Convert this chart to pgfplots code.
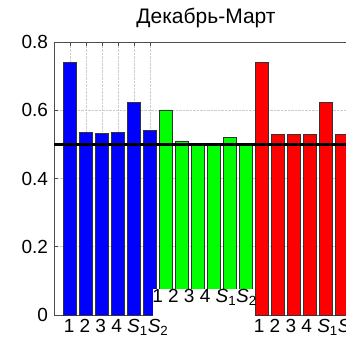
\documentclass[border=0pt]{standalone}
\usepackage{fontspec}
\setmainfont{Liberation Sans}
\usepackage{pgfplots}
\pgfplotsset{compat=1.18}
\newcommand{\lab}{\fontsize{19}{22}\selectfont}
\newcommand{\grp}{1 2 3 4 \textit{S}\textsubscript{1}\textit{S}\textsubscript{2}}
\begin{document}
\begin{tikzpicture}[x=1pt,y=1pt]
\useasboundingbox (0,0) rectangle (346,341);
\clip (0,0) rectangle (346,341);
\begin{axis}[
  at={(54pt,26pt)}, anchor=south west,
  scale only axis, width=304pt, height=273pt,
  xmin=0, xmax=19, ymin=0, ymax=0.8,
  xtick={1,2,3,4,5,6}, xticklabels={},
  ytick={0,0.2,0.4,0.6,0.8},
  yticklabels={0,0.2,0.4,0.6,0.8},
  grid=major, major grid style={gray!40, densely dotted, line width=0.6pt},
  tick align=inside, major tick length=4pt,
  axis line style={gray!60!black, line width=0.8pt},
  tick style={gray!60!black, line width=0.8pt},
  title={Декабрь-Март},
  title style={font=\fontsize{21}{24}\selectfont, at={(0.5,1)}, anchor=base, yshift=13pt},
  ticklabel style={font=\lab},
  yticklabel style={xshift=-2.5pt},
  /pgf/number format/assume math mode=true,
  clip=false,
]
\addplot[ybar, bar width=0.8, bar shift=0pt, fill=blue, draw=black!80, line width=0.7pt]
  coordinates {(1,0.739)(2,0.535)(3,0.532)(4,0.535)(5,0.622)(6,0.541)};
\addplot[ybar, bar width=0.8, bar shift=0pt, fill=green, draw=black!80, line width=0.7pt]
  coordinates {(7,0.601)(8,0.510)(9,0.497)(10,0.497)(11,0.521)(12,0.499)};
\addplot[ybar, bar width=0.8, bar shift=0pt, fill=red, draw=black!80, line width=0.7pt]
  coordinates {(13,0.741)(14,0.528)(15,0.530)(16,0.530)(17,0.622)(18,0.530)};
\fill[white] (axis cs:6.2,-0.12) rectangle (axis cs:12.58,0.075);
\draw[black, line width=3.5pt] (axis cs:0,0.5) -- (axis cs:19,0.5);
\node[font=\lab, anchor=base west, inner sep=0pt] at (axis cs:0.6,-0.05) {\grp};
\node[font=\lab, anchor=base west, inner sep=0pt] at (axis cs:6.13,0.038) {\grp};
\node[font=\lab, anchor=base west, inner sep=0pt] at (axis cs:12.48,-0.05) {\grp};
\end{axis}
\end{tikzpicture}
\end{document}
